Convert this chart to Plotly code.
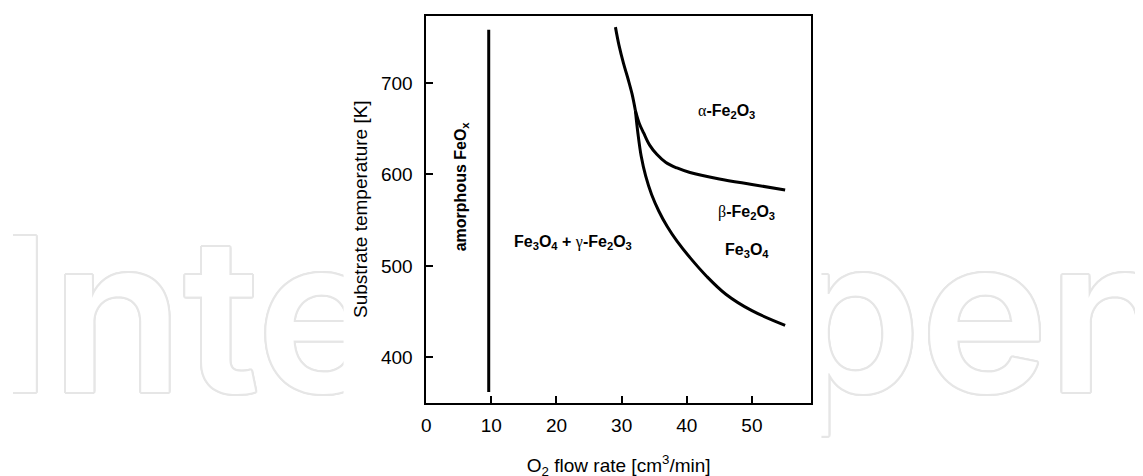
import plotly.graph_objects as go

# ---- data ----
amorphous_x = [9.6, 9.6]
amorphous_y = [362, 758]

upper_x = [29.05, 29.6, 30.3, 31.0, 31.6, 32.11]
upper_y = [761, 741, 721, 704, 688, 670]

alpha_beta_x = [32.11, 32.7, 33.4, 34.3, 35.4, 36.8, 38.5, 40.5, 45.0, 50.0, 55.1]
alpha_beta_y = [670, 656, 645, 632, 622, 613, 607, 602, 595, 589, 583]

lower_x = [32.11, 32.5, 33.0, 33.7, 34.6, 35.7, 37.0, 38.5, 40.5, 43.0, 46.0, 50.0, 55.1]
lower_y = [670, 645, 620, 598, 578, 560, 543, 527, 509, 489, 469, 451, 435]

label_text = ["α-Fe2O3", "β-Fe2O3", "Fe3O4", "Fe3O4 + γ-Fe2O3"]
label_x = [46.1, 49.2, 49.2, 22.6]
label_y = [669, 558, 517, 526]

x_ticks = [0, 10, 20, 30, 40, 50]
y_ticks = [400, 500, 600, 700]

watermark_parts = ["Intech", "pen"]

FONT = "Arial, Liberation Sans, sans-serif"
GREEK = "Liberation Serif, Times New Roman, serif"

fig = go.Figure()

# ---- watermark (background subplot x/y spanning the page) ----
W, H = 1143, 476
outline = "#e6e6e6"
shadow = ", ".join(f"{dx}px {dy}px 0 {outline}" for dx, dy in
                   [(2, 0), (-2, 0), (0, 2), (0, -2), (1, 1), (-1, -1), (1, -1), (-1, 1),
                    (2, 1), (2, -1), (-2, 1), (-2, -1), (1, 2), (-1, 2), (1, -2), (-1, -2)])
fig.add_trace(go.Scatter(
    x=[-21, 777], y=[146, 146], mode="text", text=watermark_parts, textposition="middle right",
    textfont=dict(family="Inter", size=215, color="white", weight=600, shadow=shadow),
    hoverinfo="skip", showlegend=False, xaxis="x", yaxis="y"))
fig.add_trace(go.Scatter(
    x=[332, 812, 812, 332, 332], y=[-5, -5, H + 5, H + 5, -5], mode="lines",
    fill="toself", fillcolor="white", line=dict(width=0, color="white"),
    hoverinfo="skip", showlegend=False, xaxis="x", yaxis="y"))

# ---- chart (x2/y2) ----
line_style = dict(color="black", width=3)
fig.add_trace(go.Scatter(x=amorphous_x, y=amorphous_y, mode="lines", line=line_style,
                         showlegend=False, xaxis="x2", yaxis="y2"))
fig.add_trace(go.Scatter(x=upper_x, y=upper_y, mode="lines", line=dict(shape="spline", **line_style),
                         showlegend=False, xaxis="x2", yaxis="y2"))
fig.add_trace(go.Scatter(x=alpha_beta_x, y=alpha_beta_y, mode="lines",
                         line=dict(shape="spline", **line_style),
                         showlegend=False, xaxis="x2", yaxis="y2"))
fig.add_trace(go.Scatter(x=lower_x, y=lower_y, mode="lines", line=dict(shape="spline", **line_style),
                         showlegend=False, xaxis="x2", yaxis="y2"))


def fmt(t):
    out = ""
    for i, ch in enumerate(t):
        if ch in "αβγ":
            out += f'<span style="font-family:{GREEK};font-weight:normal">{ch}</span>'
        elif ch.isdigit() and i > 0 and t[i - 1].isalpha():
            out += f"<sub>{ch}</sub>"
        else:
            out += ch
    return "<b>" + out + "</b>"


for t, lx, ly in zip(label_text, label_x, label_y):
    fig.add_annotation(x=lx, y=ly, xref="x2", yref="y2", text=fmt(t), showarrow=False,
                       font=dict(family=FONT, size=16, color="black"))

fig.add_annotation(x=5.35, y=587, xref="x2", yref="y2", text="<b>amorphous FeO<sub>x</sub></b>",
                   textangle=-90, showarrow=False, font=dict(family=FONT, size=16, color="black"))

# page is offset by the body margin
x0, x1 = 415 / W, 801.7 / W
y0, y1 = (H - 394.8) / H, (H - 7.5) / H

fig.update_layout(
    width=W, height=H, margin=dict(l=0, r=0, t=0, b=0),
    paper_bgcolor="white", plot_bgcolor="white",
    font=dict(family=FONT, size=19, color="black"),
    xaxis=dict(domain=[0, 1], range=[0, W], visible=False, fixedrange=True),
    yaxis=dict(domain=[0, 1], range=[0, H], visible=False, fixedrange=True),
    xaxis2=dict(domain=[x0, x1], anchor="y2", range=[0, 59.1], tickvals=x_ticks,
                ticks="inside", ticklen=7, tickwidth=1.5, tickcolor="black",
                showline=True, linecolor="black", linewidth=1.5, mirror=True,
                showgrid=False, zeroline=False, ticklabelstandoff=5,
                title=dict(text="O<sub>2</sub> flow rate [cm<sup>3</sup>/min]", standoff=23,
                           font=dict(size=19))),
    yaxis2=dict(domain=[y0, y1], anchor="x2", range=[350.3, 773.7], tickvals=y_ticks,
                ticks="inside", ticklen=7, tickwidth=1.5, tickcolor="black",
                showline=True, linecolor="black", linewidth=1.5, mirror=True,
                showgrid=False, zeroline=False, ticklabelstandoff=8,
                title=dict(text="Substrate temperature [K]", standoff=8, font=dict(size=19))),
)

fig.write_html("out.html")
